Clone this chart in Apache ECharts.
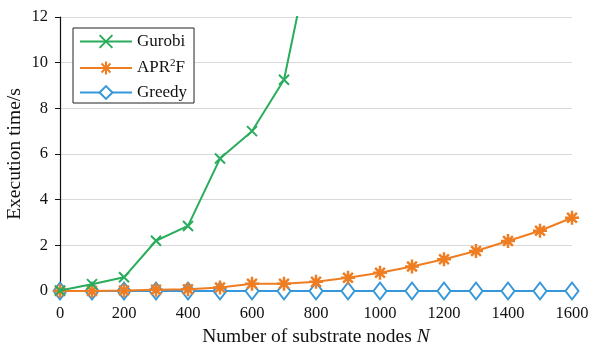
<!DOCTYPE html>
<html><head><meta charset="utf-8">
<script src="https://cdn.jsdelivr.net/npm/echarts@6/dist/echarts.min.js"></script>
<style>html,body{margin:0;padding:0;background:#fff}#c{width:591px;height:346px}</style>
</head><body><div id="c"></div>
<script>
var nodesGurobi = [0, 100, 200, 300, 400, 500, 600, 700, 800];
var gurobi = [0.02, 0.3, 0.6, 2.2, 2.85, 5.8, 7.0, 9.25, 16.0];
var nodes = [0, 100, 200, 300, 400, 500, 600, 700, 800, 900, 1000, 1100, 1200, 1300, 1400, 1500, 1600];
var apr2f = [0.0, 0.0, 0.02, 0.05, 0.08, 0.15, 0.32, 0.32, 0.4, 0.58, 0.8, 1.07, 1.39, 1.75, 2.19, 2.64, 3.21];
var greedy = [0, 0, 0, 0, 0, 0, 0, 0, 0, 0, 0, 0, 0, 0, 0, 0, 0];
var xTicks = [0, 200, 400, 600, 800, 1000, 1200, 1400, 1600];
var yTicks = [0, 2, 4, 6, 8, 10, 12];

function pairs(xs, ys) { return xs.map(function (x, i) { return [x, ys[i]]; }); }
var F = '"Liberation Serif", "DejaVu Serif", serif';
var cGreen = '#29ad5c', cOrange = '#ef7d22', cBlue = '#3797dc';

var chart = echarts.init(document.getElementById('c'));
chart.setOption({
  animation: false,
  backgroundColor: '#fff',
  grid: { left: 60, right: 19, top: 17, bottom: 55, containLabel: false, outerBoundsMode: 'none' },
  legend: {
    left: 73, top: 28, orient: 'vertical',
    backgroundColor: '#fff', borderColor: '#222', borderWidth: 1,
    padding: [5, 7, 2, 6], itemWidth: 52, itemHeight: 16, itemGap: 7.5,
    textStyle: { fontFamily: F, fontSize: 17, color: '#111',
      rich: { sup: { fontFamily: F, fontSize: 11, color: '#111', padding: [0, 0, 10, 0] },
              n: { fontFamily: F, fontSize: 17, color: '#111' } } },
    formatter: function (name) { return name === 'APR2F' ? '{n|APR}{sup|2}{n|F}' : name; },
    data: ['Gurobi', 'APR2F', 'Greedy']
  },
  xAxis: {
    type: 'value', min: 0, max: 1600, interval: 200,
    name: 'Number of substrate nodes {i|N}', nameLocation: 'middle', nameGap: 36,
    nameMoveOverlap: false,
    nameTextStyle: { fontFamily: F, fontSize: 19.5, color: '#111',
      rich: { i: { fontFamily: F, fontSize: 19.5, fontStyle: 'italic', color: '#111' } } },
    axisLine: { show: true, lineStyle: { color: '#333', width: 1 } },
    axisTick: { show: true, length: 4, lineStyle: { color: '#333' } },
    axisLabel: { fontFamily: F, fontSize: 16.5, color: '#111', margin: 14,
      formatter: function (v) { return xTicks.indexOf(v) >= 0 ? String(v) : ''; } },
    splitLine: { show: false }
  },
  yAxis: {
    type: 'value', min: 0, max: 12, interval: 2,
    name: 'Execution time/s', nameLocation: 'middle', nameGap: 35,
    nameMoveOverlap: false,
    nameTextStyle: { fontFamily: F, fontSize: 19.5, color: '#111' },
    axisLine: { show: true, lineStyle: { color: '#111', width: 1.2 } },
    axisTick: { show: true, length: 5, lineStyle: { color: '#111' } },
    axisLabel: { fontFamily: F, fontSize: 16.5, color: '#111', margin: 12,
      formatter: function (v) { return yTicks.indexOf(v) >= 0 ? String(v) : ''; } },
    splitLine: { show: true, lineStyle: { color: '#d9d9d9', width: 1 } }
  },
  series: [
    { name: 'Greedy', type: 'line', z: 2, data: pairs(nodes, greedy),
      symbol: 'diamond', symbolSize: [13, 17],
      lineStyle: { color: cBlue, width: 2 },
      itemStyle: { color: '#fff', borderColor: cBlue, borderWidth: 2 } },
    { name: 'APR2F', type: 'line', z: 3, data: pairs(nodes, apr2f),
      symbol: 'path://M5,0L5,10M0,5L10,5M1.5,1.5L8.5,8.5M8.5,1.5L1.5,8.5', symbolSize: 14,
      lineStyle: { color: cOrange, width: 2 },
      itemStyle: { color: cOrange, borderColor: cOrange, borderWidth: 2.5 } },
    { name: 'Gurobi', type: 'line', z: 4, data: pairs(nodesGurobi, gurobi),
      symbol: 'path://M0,0L10,10M10,0L0,10', symbolSize: 10,
      lineStyle: { color: cGreen, width: 2 },
      itemStyle: { color: cGreen, borderColor: cGreen, borderWidth: 2 } }
  ]
});
</script></body></html>
